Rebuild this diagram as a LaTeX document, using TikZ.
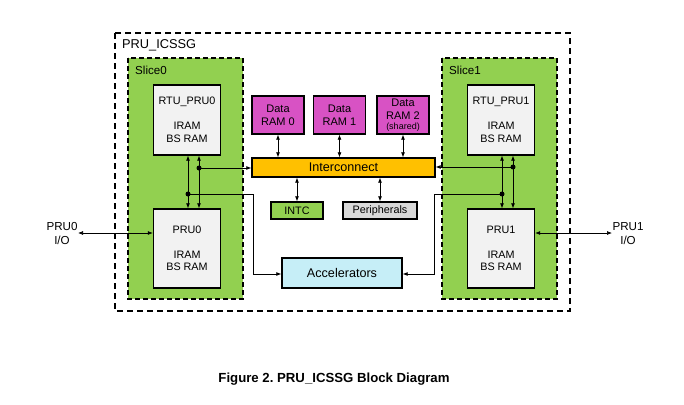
\documentclass[tikz,border=0pt]{standalone}
\usepackage{fontspec}
\setmainfont{Liberation Sans}
\usetikzlibrary{arrows.meta}
\definecolor{slicegreen}{RGB}{146,208,80}
\definecolor{rammag}{RGB}{216,82,196}
\definecolor{icorange}{RGB}{255,192,0}
\definecolor{accblue}{RGB}{198,238,247}
\definecolor{prugray}{RGB}{242,242,242}
\definecolor{perigray}{RGB}{217,217,217}
\tikzset{
  blk/.style={draw=black, line width=1.4pt, inner sep=0pt, align=center, font=\fontsize{10.8}{12.5}\selectfont},
  prubox/.style={blk, fill=prugray, minimum width=67pt, minimum height=70pt},
  rambox/.style={blk, fill=rammag, minimum width=52pt, minimum height=38pt, font=\fontsize{11}{13}\selectfont},
  slicebox/.style={draw=black, fill=slicegreen, line width=1.4pt, dash pattern=on 5pt off 3pt},
  conn/.style={line width=0.7pt, -{Latex[length=5pt,width=4pt]}},
  bconn/.style={line width=0.7pt, {Latex[length=5pt,width=4pt]}-{Latex[length=5pt,width=4pt]}},
  jdot/.style={circle, fill=black, inner sep=0pt, minimum size=5pt},
  lbl/.style={font=\fontsize{11.6}{13.5}\selectfont, inner sep=0pt}
}
\begin{document}
\frenchspacing
\begin{tikzpicture}[x=1pt, y=-1pt]
\useasboundingbox (0,0) rectangle (684,404);
% outer
\draw[line width=1.4pt, dash pattern=on 6pt off 4pt] (115,33) rectangle (570,311);
\node[lbl, font=\fontsize{12.8}{14}\selectfont, anchor=west] (title) at (122,45) {PRU\_ICSSG};
% slices
\draw[slicebox] (128,58) rectangle (243,299);
\draw[slicebox] (442,58) rectangle (557,299);
\node[lbl, anchor=west] (s0) at (135,70) {Slice0};
\node[lbl, anchor=west] (s1) at (449,70) {Slice1};
% PRU boxes
\node[prubox] (rtu0) at (187,120) {RTU\_PRU0\\[12.5pt]IRAM\\BS RAM};
\node[prubox, minimum height=79pt] (pru0) at (187,248.5) {PRU0\\[12.5pt]IRAM\\BS RAM};
\node[prubox] (rtu1) at (501,120) {RTU\_PRU1\\[12.5pt]IRAM\\BS RAM};
\node[prubox, minimum height=79pt] (pru1) at (501,248.5) {PRU1\\[12.5pt]IRAM\\BS RAM};
% RAMs
\node[rambox] (ram0) at (278,115) {Data\\RAM 0};
\node[rambox] (ram1) at (339.5,115) {Data\\RAM 1};
\node[rambox] (ram2) at (403,115) {Data\\RAM 2\\[-3pt]{\fontsize{9}{10}\selectfont(shared)}};
% interconnect etc.
\node[blk, fill=icorange, minimum width=183pt, minimum height=19pt, font=\fontsize{12.6}{14}\selectfont] (ic) at (343.5,167.5) {Interconnect};
\node[blk, fill=slicegreen, minimum width=52pt, minimum height=17pt] (intc) at (297,210.5) {INTC};
\node[blk, fill=perigray, minimum width=74pt, minimum height=17pt] (peri) at (380,210.5) {Peripherals};
\node[blk, fill=accblue, minimum width=120pt, minimum height=30pt, font=\fontsize{12.6}{14}\selectfont] (acc) at (342,273) {Accelerators};
% RAM to interconnect
\draw[bconn] (ram0.south) -- (ram0.south |- ic.north);
\draw[bconn] (ram1.south) -- (ram1.south |- ic.north);
\draw[bconn] (ram2.south) -- (ram2.south |- ic.north);
\draw[bconn] (ic.south -| intc.north) -- (intc.north);
\draw[bconn] (ic.south -| peri.north) -- (peri.north);
% left slice verticals
\draw[bconn] (rtu0.south -| 188,0) -- (pru0.north -| 188,0);
\draw[bconn] (rtu0.south -| 199,0) -- (pru0.north -| 199,0);
\node[jdot] (d0a) at (199,168) {};
\node[jdot] (d0b) at (188,194) {};
\draw[conn] (d0a.center) -- (d0a.center -| ic.west);
\coordinate (c0a) at (253,194);
\coordinate (c0b) at (253,274);
\draw[conn] (d0b.center) -- (c0a) -- (c0b) -- (c0b -| acc.west);
% right slice verticals
\draw[bconn] (rtu1.south -| 502,0) -- (pru1.north -| 502,0);
\draw[bconn] (rtu1.south -| 513,0) -- (pru1.north -| 513,0);
\node[jdot] (d1a) at (513,167) {};
\node[jdot] (d1b) at (502,194) {};
\draw[conn] (d1a.center) -- (d1a.center -| ic.east);
\coordinate (c1a) at (434,194);
\coordinate (c1b) at (434,274);
\draw[conn] (d1b.center) -- (c1a) -- (c1b) -- (c1b -| acc.east);
% I/O
\coordinate (io0) at (78,233);
\coordinate (io1) at (612,233);
\draw[bconn] (io0) -- (io0 -| pru0.west);
\draw[bconn] (io1) -- (io1 -| pru1.east);
\node[lbl, align=center] (io0l) at (62,233.5) {PRU0\\I/O};
\node[lbl, align=center] (io1l) at (628,233.5) {PRU1\\I/O};
% caption
\node[font=\fontsize{13.2}{15}\selectfont\bfseries, inner sep=0pt] (cap) at (334,379) {Figure 2. PRU\_ICSSG Block Diagram};
\end{tikzpicture}
\end{document}
